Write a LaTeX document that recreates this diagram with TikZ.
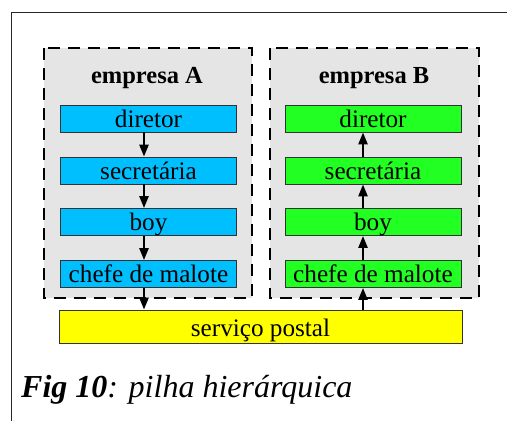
\documentclass[tikz,border=0pt]{standalone}
\usepackage{fontspec}
\setmainfont{Liberation Serif}
\usetikzlibrary{arrows.meta}
\definecolor{groupgray}{HTML}{E5E5E5}
\definecolor{blueA}{HTML}{00BFFF}
\definecolor{greenB}{HTML}{22FF22}
\definecolor{yellowP}{HTML}{FFFF00}
\definecolor{boxline}{HTML}{333333}
\begin{document}
\begin{tikzpicture}[x=1pt,y=-1pt,
  group/.style={draw=black, fill=groupgray, line width=2pt, dash pattern=on 12pt off 8pt},
  box/.style={draw=boxline, line width=0.8pt, minimum width=176pt, minimum height=27pt,
    inner sep=0pt, text height=22pt, text depth=5pt, font=\fontsize{25.2}{27}\selectfont},
  arr/.style={line width=2.4pt, -{Triangle[length=12pt,width=9pt]}},
  title/.style={anchor=base, font=\bfseries\fontsize{24.5}{26}\selectfont}
]
\useasboundingbox (0,0) rectangle (507,421);
\draw[line width=1pt, draw=black!85] (11,421) -- (11,12) -- (507,12);

\path[group] (44,48) rectangle (252,298);
\path[group] (270,48) rectangle (479,298);

\node[title] (ta) at (147,83) {empresa A};
\node[title] (tb) at (374,83) {empresa B};

\node[box, fill=blueA] (a1) at (148.5,118.5) {diretor};
\node[box, fill=blueA] (a2) at (148.5,170.5) {secretária};
\node[box, fill=blueA] (a3) at (148.5,222) {boy};
\node[box, fill=blueA] (a4) at (148.5,274) {chefe de malote};

\node[box, fill=greenB] (b1) at (373,118.5) {diretor};
\node[box, fill=greenB] (b2) at (373,170.5) {secretária};
\node[box, fill=greenB] (b3) at (373,222) {boy};
\node[box, fill=greenB] (b4) at (373,274) {chefe de malote};

\node[box, fill=yellowP, minimum width=403pt, minimum height=33pt, text height=26pt, text depth=7pt] (postal) at (260.5,326.5) {serviço postal};

\coordinate (ax) at (144,0);
\coordinate (bx) at (363,0);

\draw[arr] (a1.south -| ax) -- (a2.north -| ax);
\draw[arr] (a2.south -| ax) -- (a3.north -| ax);
\draw[arr] (a3.south -| ax) -- (a4.north -| ax);
\draw[arr] (a4.south -| ax) -- (postal.north -| ax);

\draw[arr] (postal.north -| bx) -- (b4.south -| bx);
\draw[arr] (b4.north -| bx) -- (b3.south -| bx);
\draw[arr] (b3.north -| bx) -- (b2.south -| bx);
\draw[arr] (b2.north -| bx) -- (b1.south -| bx);

\node[anchor=base west, inner sep=0pt, font=\fontsize{32}{34}\selectfont] (cap) at (21,397) {\textbf{\textit{Fig 10}}\textit{: pilha hierárquica}};
\end{tikzpicture}
\end{document}
